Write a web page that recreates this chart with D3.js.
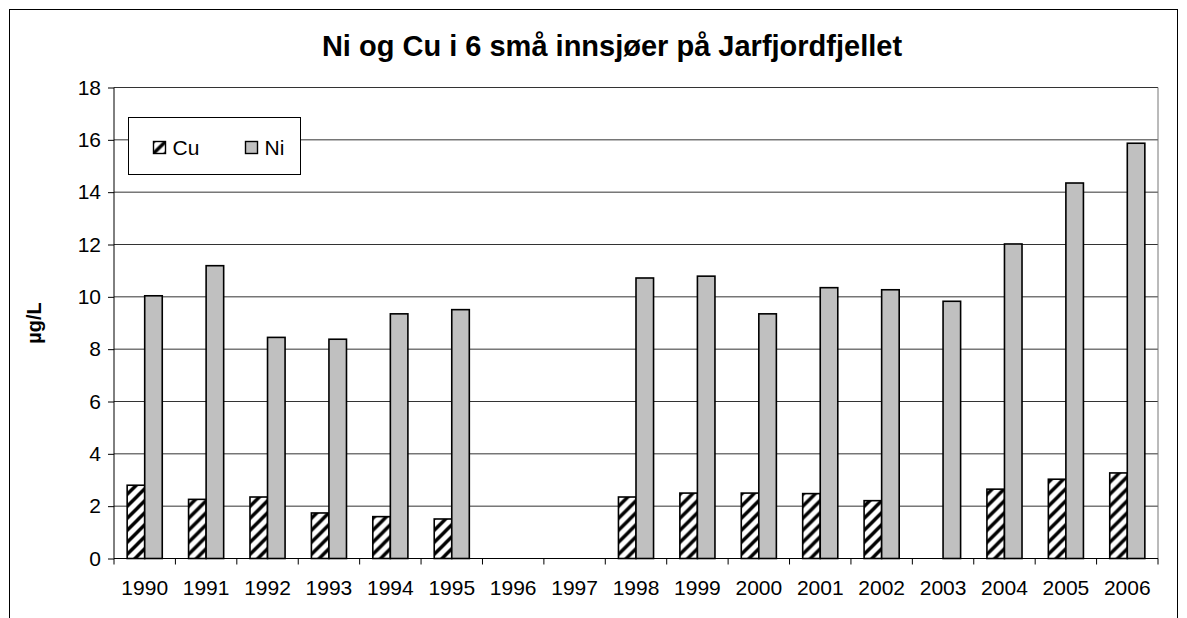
<!DOCTYPE html>
<html>
<head>
<meta charset="utf-8">
<script src="https://cdn.jsdelivr.net/npm/d3@7"></script>
<style>
  body { margin: 0; background: #fff; }
  text { font-family: Arial, "Liberation Sans", sans-serif; }
</style>
</head>
<body>
<div id="chart"></div>
<script>
// data
var years = ["1990", "1991", "1992", "1993", "1994", "1995", "1996", "1997", "1998",
             "1999", "2000", "2001", "2002", "2003", "2004", "2005", "2006"];
var cuValues = [2.80, 2.26, 2.35, 1.74, 1.60, 1.51, null, null, 2.35,
                2.50, 2.50, 2.48, 2.21, null, 2.65, 3.03, 3.27];
var niValues = [10.04, 11.19, 8.45, 8.38, 9.35, 9.51, null, null, 10.72,
                10.79, 9.35, 10.35, 10.27, 9.83, 12.02, 14.35, 15.87];
var seriesNames = ["Cu", "Ni"];
var yTicks = [0, 2, 4, 6, 8, 10, 12, 14, 16, 18];
var title = "Ni og Cu i 6 små innsjøer på Jarfjordfjellet";
var yLabel = "µg/L";

var W = 1187, H = 618;
var margin = {top: 87.5, left: 114, right: 29, bottom: 59.5};
var width = W - margin.left - margin.right,
    height = H - margin.top - margin.bottom;

var svg = d3.select("#chart").append("svg")
    .attr("width", W)
    .attr("height", H);

// hatch for Cu
var defs = svg.append("defs");
defs.append("pattern")
    .attr("id", "hatch")
    .attr("patternUnits", "userSpaceOnUse")
    .attr("width", 12)
    .attr("height", 12)
  .call(function (p) {
      p.append("rect").attr("width", 12).attr("height", 12).attr("fill", "#fff");
      p.append("path")
          .attr("d", "M-3,3 L3,-3 M0,12 L12,0 M9,15 L15,9")
          .attr("stroke", "#000")
          .attr("stroke-width", 3.4);
  });

// outer chart border (bottom edge falls outside the picture)
svg.append("rect")
    .attr("x", 9.5).attr("y", 9.5)
    .attr("width", 1168).attr("height", 640)
    .attr("fill", "none")
    .attr("stroke", "#000")
    .attr("stroke-width", 1);

svg.append("text")
    .attr("x", 612).attr("y", 56)
    .attr("text-anchor", "middle")
    .style("font-size", "29px")
    .style("font-weight", "bold")
    .text(title);

var g = svg.append("g").attr("transform", "translate(" + margin.left + "," + margin.top + ")");

var x = d3.scaleBand().domain(years).range([0, width]).paddingInner(0).paddingOuter(0);
var xs = d3.scaleBand().domain(seriesNames).range([0, x.bandwidth()]).paddingInner(0).paddingOuter(0.75);
var y = d3.scaleLinear().domain([0, 18]).range([height, 0]);

// gridlines
g.selectAll(".grid")
    .data(yTicks.filter(function (d) { return d > 0; }))
    .enter().append("line")
    .attr("x1", 0).attr("x2", width)
    .attr("y1", function (d) { return y(d); })
    .attr("y2", function (d) { return y(d); })
    .attr("stroke", "#333")
    .attr("stroke-width", 1);

// right border of plot area
g.append("line")
    .attr("x1", width).attr("x2", width)
    .attr("y1", 0).attr("y2", height)
    .attr("stroke", "#777");

// bars
var rows = years.map(function (yr, i) {
    return {year: yr, Cu: cuValues[i], Ni: niValues[i]};
});
var groups = g.selectAll(".yr")
    .data(rows)
    .enter().append("g")
    .attr("transform", function (d) { return "translate(" + x(d.year) + ",0)"; });

groups.selectAll("rect")
    .data(function (d) {
        return seriesNames.map(function (s) { return {key: s, value: d[s]}; })
            .filter(function (e) { return e.value != null; });
    })
    .enter().append("rect")
    .attr("x", function (d) { return xs(d.key); })
    .attr("width", xs.bandwidth())
    .attr("y", function (d) { return y(d.value); })
    .attr("height", function (d) { return height - y(d.value); })
    .attr("fill", function (d) { return d.key == "Cu" ? "url(#hatch)" : "#c0c0c0"; })
    .attr("stroke", "#000")
    .attr("stroke-width", 1.6);

// y axis
var yAxis = g.append("g")
    .call(d3.axisLeft(y).tickValues(yTicks).tickSize(6).tickPadding(7).tickFormat(d3.format("d")));
yAxis.select(".domain").attr("stroke", "#000").attr("d", "M0,0V" + height);
yAxis.selectAll("text").style("font-size", "21px").attr("fill", "#000");

// x axis
var xAxis = g.append("g")
    .attr("transform", "translate(0," + height + ")")
    .call(d3.axisBottom(x).tickSize(0).tickPadding(22));
xAxis.select(".domain").attr("stroke", "#000").attr("d", "M0,0H" + width);
xAxis.selectAll("text").style("font-size", "21px").attr("fill", "#000");
xAxis.selectAll(".bnd")
    .data(years.concat(["end"]))
    .enter().append("line")
    .attr("x1", function (d) { return d == "end" ? width : x(d); })
    .attr("x2", function (d) { return d == "end" ? width : x(d); })
    .attr("y1", 0).attr("y2", 6)
    .attr("stroke", "#000");

// y label
svg.append("text")
    .attr("transform", "translate(41," + (margin.top + height / 2) + ") rotate(-90)")
    .attr("text-anchor", "middle")
    .style("font-size", "20px")
    .style("font-weight", "bold")
    .text(yLabel);

// legend
var legend = svg.append("g").attr("transform", "translate(128.5,117.5)");
legend.append("rect")
    .attr("width", 172).attr("height", 57)
    .attr("fill", "#fff")
    .attr("stroke", "#000");
var items = legend.selectAll(".item")
    .data(seriesNames)
    .enter().append("g")
    .attr("transform", function (d, i) { return "translate(" + (25 + i * 92) + ",24)"; });
items.append("rect")
    .attr("width", 12).attr("height", 12)
    .attr("fill", function (d) { return d == "Cu" ? "url(#hatch)" : "#c0c0c0"; })
    .attr("stroke", "#000")
    .attr("stroke-width", 1.4);
items.append("text")
    .attr("x", 19).attr("y", 13)
    .style("font-size", "21px")
    .text(function (d) { return d; });
</script>
</body>
</html>
